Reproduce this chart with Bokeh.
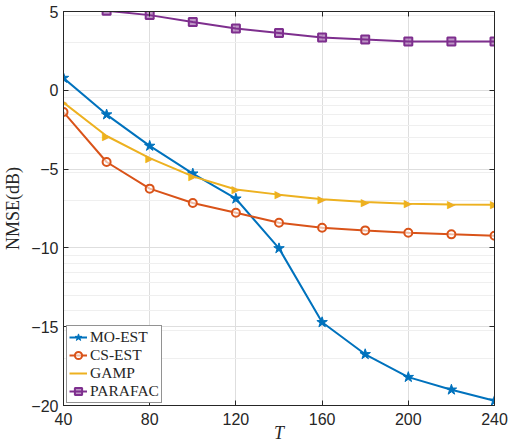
import numpy as np
from bokeh.plotting import figure
from bokeh.models import FixedTicker, Range1d, LinearAxis, Legend, LegendItem, Label
from bokeh.core.properties import value
from bokeh.embed import file_html
from bokeh.resources import INLINE

T = [40, 60, 80, 100, 120, 140, 160, 180, 200, 220, 240]
mo_est = [0.78, -1.54, -3.53, -5.29, -6.88, -10.03, -14.72, -16.75, -18.2, -19.0, -19.7]
cs_est = [-1.38, -4.55, -6.24, -7.15, -7.77, -8.4, -8.72, -8.89, -9.04, -9.14, -9.23]
gamp = [-0.78, -2.9, -4.3, -5.46, -6.29, -6.62, -6.92, -7.09, -7.2, -7.24, -7.26]
parafac = [5.9, 5.05, 4.77, 4.34, 3.92, 3.64, 3.35, 3.22, 3.09, 3.09, 3.09]

x_ticks = [40, 80, 120, 160, 200, 240]
y_ticks = [-20, -15, -10, -5, 0, 5]

# minor grid lines (log-style, as in the original figure)
minor_y = [float(10 * np.log10(k * 10.0 ** n)) for n in (-2, -1, 0) for k in range(2, 10)]
minor_y = [v for v in minor_y if -20 < v < 5]

p = figure(width=510, height=446, output_backend="svg", toolbar_location=None,
           x_range=Range1d(40, 240), y_range=Range1d(-20, 5),
           min_border_left=61, min_border_right=16, min_border_top=11, min_border_bottom=41)

p.outline_line_color = "#262626"
p.outline_line_width = 1

p.xaxis.ticker = FixedTicker(ticks=x_ticks)
p.yaxis.ticker = FixedTicker(ticks=y_ticks)
p.xgrid.ticker = FixedTicker(ticks=x_ticks)
p.ygrid.ticker = FixedTicker(ticks=y_ticks, minor_ticks=minor_y)
p.xgrid.grid_line_color = "#dedede"
p.ygrid.grid_line_color = "#dedede"
p.ygrid.minor_grid_line_color = "#efefef"
p.xgrid.grid_line_width = 1
p.ygrid.grid_line_width = 1

for ax in [p.xaxis[0], p.yaxis[0]]:
    ax.major_tick_in = 5
    ax.major_tick_out = 0
    ax.minor_tick_line_color = None
    ax.axis_line_color = "#262626"
    ax.major_tick_line_color = "#262626"
    ax.major_label_text_font = "Liberation Sans"
    ax.major_label_text_font_size = "16px"
    ax.major_label_text_color = "#262626"
    ax.axis_label_text_font = "Liberation Serif"
    ax.axis_label_text_color = "#262626"

p.xaxis.axis_label = "T"
p.xaxis.axis_label_text_font_size = "18px"
p.xaxis.axis_label_text_font_style = "italic"
p.xaxis.major_label_standoff = 7
p.xaxis.axis_label_standoff = -5
p.yaxis.axis_label = "NMSE(dB)"
p.yaxis.axis_label_text_font_size = "18px"
p.yaxis.axis_label_text_font_style = "normal"
p.yaxis.axis_label_standoff = 5
p.yaxis.major_label_standoff = 5

# box axes (top and right) with inward ticks, no labels
for loc, ticks in (("above", x_ticks), ("right", y_ticks)):
    ax = LinearAxis(ticker=FixedTicker(ticks=ticks), major_label_text_font_size="0px",
                    major_label_text_color=None, major_label_standoff=0,
                    major_tick_in=5, major_tick_out=0, minor_tick_line_color=None,
                    axis_line_color="#262626", major_tick_line_color="#262626")
    p.add_layout(ax, loc)

c_mo, c_cs, c_ga, c_pa = "#0072BD", "#D95319", "#EDB120", "#7E2F8E"

l1 = p.line(T, mo_est, color=c_mo, line_width=2)
m1 = p.scatter(T, mo_est, marker="star", size=11, color=c_mo, line_width=1)
l2 = p.line(T, cs_est, color=c_cs, line_width=2)
m2 = p.scatter(T, cs_est, marker="circle", size=8, line_color=c_cs, fill_color="white",
               fill_alpha=0.6, line_width=2)
l3 = p.line(T, gamp, color=c_ga, line_width=2)
m3 = p.text(T, gamp, text=["\u25B6"] * len(T), text_font=value("DejaVu Sans"),
            text_font_size="11px", text_color=c_ga, text_align="center",
            text_baseline="middle")
l4 = p.line(T, parafac, color=c_pa, line_width=2)
m4 = p.scatter(T, parafac, marker="square", size=8, line_color=c_pa, fill_color=c_pa,
               fill_alpha=0.5, line_width=2)

legend = Legend(items=[
    LegendItem(label="MO-EST", renderers=[l1, m1]),
    LegendItem(label="CS-EST", renderers=[l2, m2]),
    LegendItem(label="GAMP", renderers=[l3, m3]),
    LegendItem(label="PARAFAC", renderers=[l4, m4]),
], location=(3, 2))
legend.label_text_font = "Liberation Serif"
legend.label_text_font_size = "15.5px"
legend.label_text_color = "#262626"
legend.border_line_color = "#262626"
legend.border_line_width = 1
legend.background_fill_color = "white"
legend.background_fill_alpha = 1
legend.padding = 2
legend.spacing = 0
legend.margin = 0
legend.label_height = 18
legend.glyph_height = 18
legend.glyph_width = 18
legend.label_standoff = 3
legend.level = "underlay"
p.add_layout(legend, "center")

# legend marker for the GAMP entry (right-pointing triangle), drawn above the legend box
p.add_layout(Label(x=46.5, y=-17.83, x_units="data", y_units="data", text="\u25B6",
                   text_font="DejaVu Sans", text_font_size="11px", text_color=c_ga,
                   text_align="center", text_baseline="middle", level="overlay"))

open("out.html", "w").write(file_html(p, INLINE))
